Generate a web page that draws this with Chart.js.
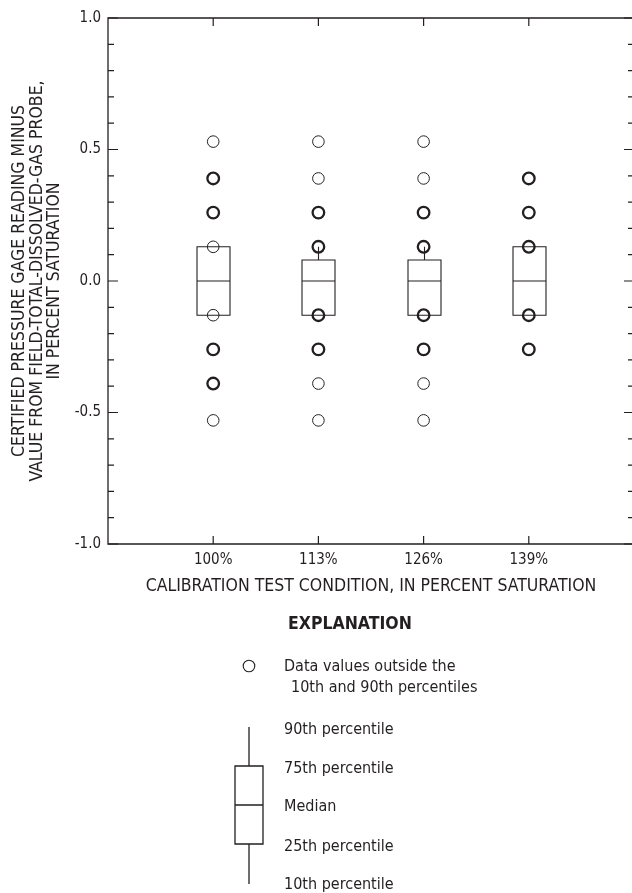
<!DOCTYPE html>
<html lang="en">
<head>
<meta charset="UTF-8">
<title>Calibration test condition</title>
<script src="https://cdn.jsdelivr.net/npm/chart.js"></script>
<style>
  body { margin: 0; background: #fff; }
  /* the right frame edge runs just past the visible page */
  .wrap { width: 632px; height: 893px; overflow: hidden; }
  canvas { display: block; }
</style>
</head>
<body>
<div class="wrap"><canvas id="calChart" width="634" height="893"></canvas></div>
<script>
// categories and y-axis labels
const categories = ['100%', '113%', '126%', '139%'];
const yLabelValues = [-1.0, -0.5, 0.0, 0.5, 1.0];

// percentile summaries, one entry per category
const p10 = [-0.13, -0.13, -0.13, -0.13];
const p25 = [-0.13, -0.13, -0.13, -0.13];
const p50 = [0, 0, 0, 0];
const p75 = [0.13, 0.08, 0.08, 0.13];
const p90 = [0.13, 0.13, 0.13, 0.13];

// values outside the 10th/90th percentiles (repeats = several readings)
const outliers100 = [0.53, 0.39, 0.39, 0.26, 0.26, 0.13, -0.13, -0.26, -0.26, -0.39, -0.39, -0.53];
const outliers113 = [0.53, 0.39, 0.26, 0.26, 0.13, 0.13, -0.13, -0.13, -0.26, -0.26, -0.39, -0.53];
const outliers126 = [0.53, 0.39, 0.26, 0.26, 0.13, 0.13, -0.13, -0.13, -0.26, -0.26, -0.39, -0.53];
const outliers139 = [0.39, 0.39, 0.26, 0.26, 0.13, 0.13, -0.13, -0.13, -0.26, -0.26];

const FONT = "'Liberation Sans Narrow', 'DejaVu Sans Condensed', 'Roboto Condensed', sans-serif";
const INK = '#231f20';

// collapse repeated values into one circle with a count
function toPoints(values, x) {
    const counts = new Map();
    values.forEach(v => counts.set(v, (counts.get(v) || 0) + 1));
    return [...counts].map(([y, n]) => ({ x: x, y: y, n: n }));
}
const outlierPoints = [outliers100, outliers113, outliers126, outliers139]
    .flatMap((vals, i) => toPoints(vals, i + 1));

// box, whiskers and median for each category
const boxPlugin = {
    id: 'boxes',
    beforeDatasetsDraw(chart) {
        const { ctx, scales: { x, y } } = chart;
        const half = 16.5;
        ctx.save();
        ctx.strokeStyle = INK;
        ctx.lineWidth = 1.1;
        categories.forEach((c, i) => {
            const cx = Math.round(x.getPixelForValue(i + 1)) + 0.5;
            const yTop = y.getPixelForValue(p75[i]);
            const yBot = y.getPixelForValue(p25[i]);
            const yMed = y.getPixelForValue(p50[i]);
            ctx.beginPath();
            ctx.rect(cx - half, yTop, half * 2, yBot - yTop);
            ctx.moveTo(cx - half, yMed);
            ctx.lineTo(cx + half, yMed);
            ctx.moveTo(cx, yTop);
            ctx.lineTo(cx, y.getPixelForValue(p90[i]));
            ctx.moveTo(cx, yBot);
            ctx.lineTo(cx, y.getPixelForValue(p10[i]));
            ctx.stroke();
        });
        ctx.restore();
    }
};

// plot frame with inward tick marks on all four sides
const framePlugin = {
    id: 'frame',
    afterDraw(chart) {
        const { ctx, chartArea: a, scales: { x, y } } = chart;
        ctx.save();
        ctx.strokeStyle = INK;
        ctx.lineWidth = 1.3;
        ctx.beginPath();
        ctx.rect(a.left, a.top, a.right - a.left, a.bottom - a.top);
        ctx.stroke();
        ctx.lineWidth = 1.2;
        ctx.beginPath();
        y.ticks.forEach(t => {
            const py = y.getPixelForValue(t.value);
            const major = Math.abs(t.value * 2 - Math.round(t.value * 2)) < 1e-6;
            const len = major ? 10 : 6;
            ctx.moveTo(a.left, py); ctx.lineTo(a.left + len, py);
            ctx.moveTo(a.right, py); ctx.lineTo(a.right - len, py);
        });
        x.ticks.forEach(t => {
            const px = x.getPixelForValue(t.value);
            ctx.moveTo(px, a.bottom); ctx.lineTo(px, a.bottom - 8);
            ctx.moveTo(px, a.top); ctx.lineTo(px, a.top + 8);
        });
        ctx.stroke();
        ctx.restore();
    }
};

// explanation key below the chart
const keyPlugin = {
    id: 'explanation',
    afterDraw(chart) {
        const ctx = chart.ctx;
        const gx = 249, tx = 284;
        ctx.save();
        ctx.fillStyle = INK;
        ctx.strokeStyle = INK;
        ctx.textBaseline = 'middle';
        ctx.font = 'bold 17.5px ' + FONT;
        ctx.textAlign = 'left';
        ctx.fillText('EXPLANATION', 288, 624);

        ctx.font = '16px ' + FONT;
        ctx.lineWidth = 1.1;
        ctx.beginPath();
        ctx.arc(gx, 666, 5.8, 0, Math.PI * 2);
        ctx.stroke();
        ctx.fillText('Data values outside the', tx, 667);
        ctx.fillText('10th and 90th percentiles', tx + 7, 688);

        ctx.lineWidth = 1.3;
        ctx.beginPath();
        ctx.moveTo(gx, 727); ctx.lineTo(gx, 766);
        ctx.rect(gx - 14, 766, 28, 78);
        ctx.moveTo(gx - 14, 805); ctx.lineTo(gx + 14, 805);
        ctx.moveTo(gx, 844); ctx.lineTo(gx, 884);
        ctx.stroke();
        ctx.fillText('90th percentile', tx, 730);
        ctx.fillText('75th percentile', tx, 769);
        ctx.fillText('Median', tx, 807);
        ctx.fillText('25th percentile', tx, 847);
        ctx.fillText('10th percentile', tx, 885);
        ctx.restore();
    }
};

Chart.defaults.font.family = FONT;
Chart.defaults.color = INK;

new Chart(document.getElementById('calChart'), {
    type: 'scatter',
    data: {
        datasets: [{
            label: 'Data values outside the 10th and 90th percentiles',
            data: outlierPoints,
            pointRadius: 5.8,
            pointHoverRadius: 5.8,
            pointBackgroundColor: 'rgba(0,0,0,0)',
            pointBorderColor: INK,
            pointBorderWidth: ctx => (ctx.raw && ctx.raw.n > 1 ? 2.3 : 1)
        }]
    },
    options: {
        responsive: false,
        animation: false,
        layout: { autoPadding: false, padding: { top: 18, right: 0, bottom: 285, left: 0 } },
        plugins: { legend: { display: false }, tooltip: { enabled: false } },
        scales: {
            x: {
                type: 'linear',
                min: 0,
                max: 5,
                afterBuildTicks: scale => { scale.ticks = categories.map((c, i) => ({ value: i + 1 })); },
                afterFit: scale => {
                    scale.height = 64;
                    scale.paddingLeft = 0;
                    scale.paddingRight = 0;
                },
                grid: { display: false, drawTicks: false },
                border: { display: false },
                ticks: {
                    autoSkip: false,
                    maxRotation: 0,
                    padding: 7,
                    font: { size: 15 },
                    callback: v => categories[v - 1]
                },
                title: {
                    display: true,
                    text: 'CALIBRATION TEST CONDITION, IN PERCENT SATURATION',
                    font: { size: 17.5 },
                    padding: { top: 0, bottom: 11 }
                }
            },
            y: {
                min: -1,
                max: 1,
                afterFit: scale => { scale.width = 108; },
                grid: { display: false, drawTicks: false },
                border: { display: false },
                ticks: {
                    stepSize: 0.1,
                    autoSkip: false,
                    padding: 7,
                    font: { size: 15 },
                    callback: v => {
                        const hit = yLabelValues.find(l => Math.abs(l - v) < 1e-6);
                        return hit === undefined ? '' : hit.toFixed(1);
                    }
                },
                title: {
                    display: true,
                    text: ['CERTIFIED PRESSURE GAGE READING MINUS',
                           'VALUE FROM FIELD-TOTAL-DISSOLVED-GAS PROBE,',
                           'IN PERCENT SATURATION'],
                    font: { size: 17.5, lineHeight: 1.0 },
                    padding: { top: 11, bottom: 0 }
                }
            }
        }
    },
    plugins: [boxPlugin, framePlugin, keyPlugin]
});
</script>
</body>
</html>
